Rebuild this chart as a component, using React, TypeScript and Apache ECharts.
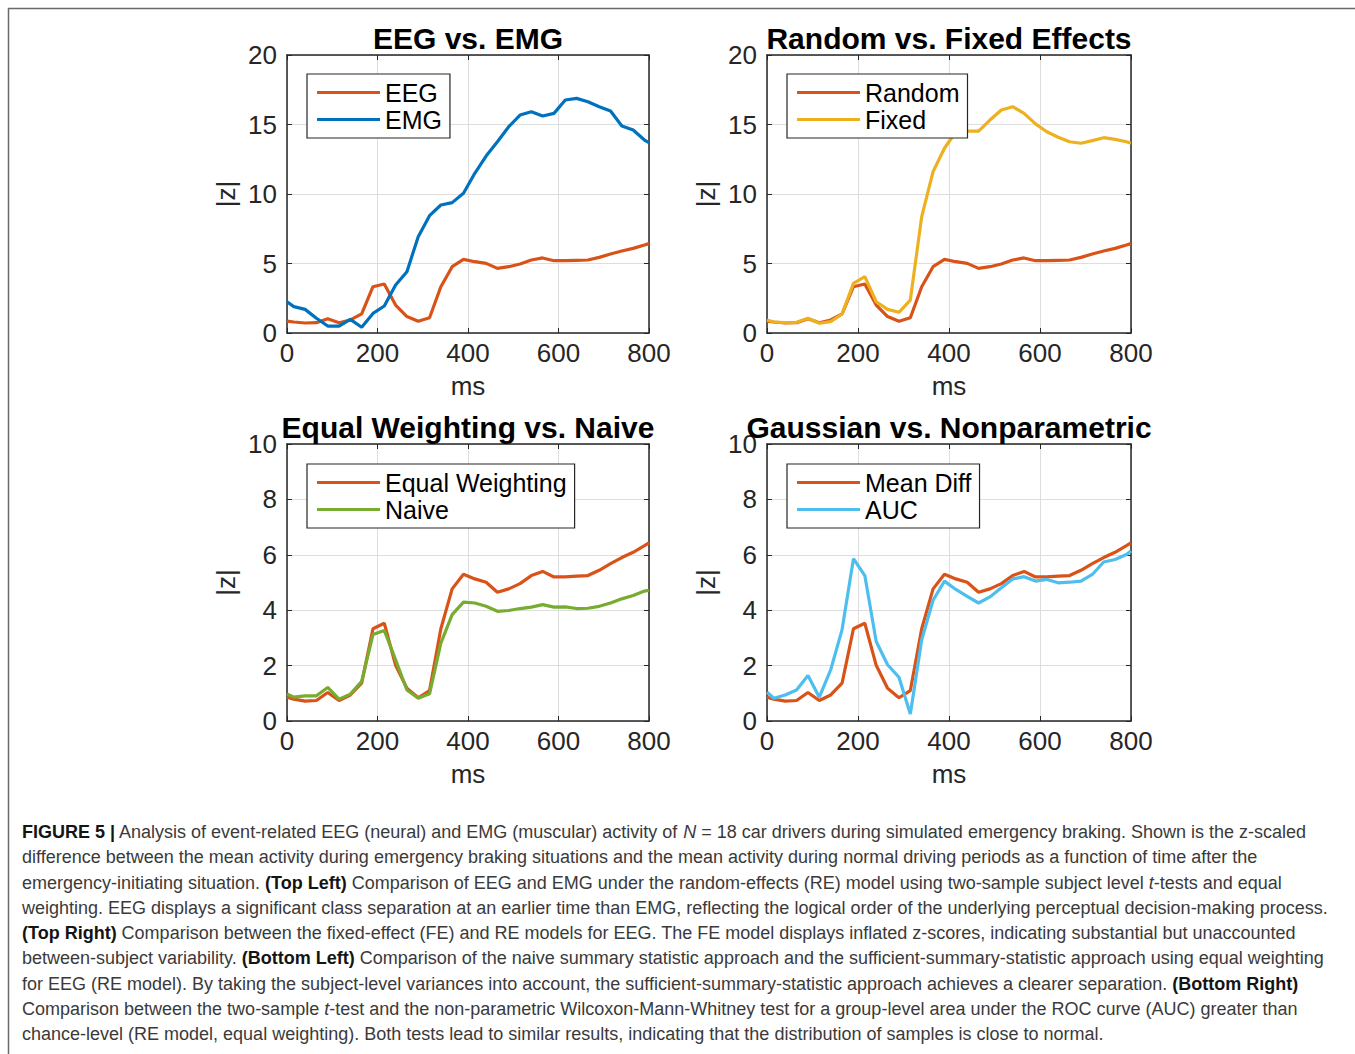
import React, { useEffect, useRef } from "react";
import * as echarts from "echarts";

// time after emergency-initiating situation (ms)
const timesMs = [0, 15, 40, 65, 90, 115, 140, 165, 190, 215, 240, 265, 290, 315, 340, 365, 390, 415, 440, 465, 490, 515, 540, 565, 590, 615, 640, 665, 690, 715, 740, 765, 790, 800];

// EEG, random effects, equal weighting, mean difference
const eegRE = [0.86, 0.79, 0.72, 0.74, 1.03, 0.74, 0.94, 1.37, 3.33, 3.53, 2.01, 1.18, 0.84, 1.10, 3.33, 4.77, 5.30, 5.13, 5.01, 4.65, 4.77, 4.96, 5.25, 5.40, 5.20, 5.20, 5.23, 5.25, 5.44, 5.68, 5.90, 6.09, 6.33, 6.43];
const emgRE = [2.25, 1.90, 1.70, 1.06, 0.50, 0.50, 0.98, 0.41, 1.41, 1.94, 3.45, 4.41, 6.93, 8.44, 9.21, 9.38, 10.05, 11.49, 12.73, 13.76, 14.84, 15.68, 15.92, 15.61, 15.80, 16.76, 16.88, 16.64, 16.28, 15.97, 14.89, 14.60, 13.88, 13.69];
const eegFixed = [0.94, 0.79, 0.74, 0.77, 1.06, 0.70, 0.82, 1.37, 3.57, 4.05, 2.25, 1.70, 1.49, 2.37, 8.37, 11.61, 13.29, 14.48, 14.53, 14.53, 15.32, 16.04, 16.28, 15.80, 15.04, 14.48, 14.08, 13.76, 13.65, 13.84, 14.05, 13.93, 13.76, 13.65];
const eegNaive = [0.98, 0.86, 0.91, 0.91, 1.21, 0.79, 0.97, 1.43, 3.12, 3.27, 2.21, 1.12, 0.82, 0.98, 2.81, 3.84, 4.29, 4.26, 4.14, 3.96, 3.99, 4.06, 4.11, 4.20, 4.11, 4.12, 4.06, 4.07, 4.14, 4.26, 4.41, 4.53, 4.69, 4.72];
const eegAUC = [1.04, 0.82, 0.94, 1.12, 1.64, 0.86, 1.85, 3.30, 5.86, 5.25, 2.87, 2.03, 1.58, 0.25, 2.93, 4.36, 5.05, 4.75, 4.50, 4.26, 4.48, 4.81, 5.13, 5.21, 5.05, 5.11, 4.99, 5.01, 5.05, 5.29, 5.74, 5.83, 6.01, 6.14];

const panelTitles = ["EEG vs. EMG", "Random vs. Fixed Effects", "Equal Weighting vs. Naive", "Gaussian vs. Nonparametric"];
const panelSeriesNames = [
  ["EEG", "EMG"],
  ["Random", "Fixed"],
  ["Equal Weighting", "Naive"],
  ["Mean Diff", "AUC"],
];
const panelSeriesData = [
  [eegRE, emgRE],
  [eegRE, eegFixed],
  [eegRE, eegNaive],
  [eegRE, eegAUC],
];
const panelYMax = [20, 20, 10, 10];
const panelYInterval = [5, 5, 2, 2];
const xMin = 0;
const xMax = 800;
const xInterval = 200;
const xAxisName = "ms";
const yAxisName = "|z|";

const captionLines = [
  "**FIGURE 5 |** Analysis of event-related EEG (neural) and EMG (muscular) activity of _N_ = 18 car drivers during simulated emergency braking. Shown is the z-scaled",
  "difference between the mean activity during emergency braking situations and the mean activity during normal driving periods as a function of time after the",
  "emergency-initiating situation. **(Top Left)** Comparison of EEG and EMG under the random-effects (RE) model using two-sample subject level _t_-tests and equal",
  "weighting. EEG displays a significant class separation at an earlier time than EMG, reflecting the logical order of the underlying perceptual decision-making process.",
  "**(Top Right)** Comparison between the fixed-effect (FE) and RE models for EEG. The FE model displays inflated z-scores, indicating substantial but unaccounted",
  "between-subject variability. **(Bottom Left)** Comparison of the naive summary statistic approach and the sufficient-summary-statistic approach using equal weighting",
  "for EEG (RE model). By taking the subject-level variances into account, the sufficient-summary-statistic approach achieves a clearer separation. **(Bottom Right)**",
  "Comparison between the two-sample _t_-test and the non-parametric Wilcoxon-Mann-Whitney test for a group-level area under the ROC curve (AUC) greater than",
  "chance-level (RE model, equal weighting). Both tests lead to similar results, indicating that the distribution of samples is close to normal.",
];

const FONT = "'Liberation Sans', Arial, Helvetica, sans-serif";
const AXIS_COLOR = "#262626";
const seriesColors = [
  ["#D95319", "#0072BD"],
  ["#D95319", "#EDB120"],
  ["#D95319", "#77AC30"],
  ["#D95319", "#4DBEEE"],
];

// layout
const grids = [
  { left: 287, top: 55, width: 362, height: 278 },
  { left: 767, top: 55, width: 364, height: 278 },
  { left: 287, top: 444, width: 362, height: 277 },
  { left: 767, top: 444, width: 364, height: 277 },
];
const legendPos = [
  { left: 307, top: 74 },
  { left: 787, top: 74 },
  { left: 307, top: 464 },
  { left: 787, top: 464 },
];

function toRich(line: string) {
  return line.replace(/\*\*(.+?)\*\*/g, "{b|$1}").replace(/_(.+?)_/g, "{i|$1}");
}

export default function App() {
  const ref = useRef<HTMLDivElement>(null);
  useEffect(() => {
    if (!ref.current) return;
    const chart = echarts.init(ref.current, undefined, { renderer: "svg" });

    const xAxes: any[] = [];
    const yAxes: any[] = [];
    const series: any[] = [];
    const legends: any[] = [];
    const graphics: any[] = [];

    grids.forEach((g, gi) => {
      const lineStyle = { color: AXIS_COLOR, width: 1.5 };
      const tick = { show: true, inside: true, length: 5, lineStyle: { color: AXIS_COLOR, width: 1 } };
      xAxes.push({
        type: "value", gridIndex: gi, position: "bottom", min: xMin, max: xMax, interval: xInterval,
        axisLine: { show: true, onZero: false, lineStyle },
        axisTick: tick,
        axisLabel: { fontSize: 26, color: AXIS_COLOR, fontFamily: FONT, margin: 7, showMinLabel: true, showMaxLabel: true },
        splitLine: { show: true, lineStyle: { color: "#dedede", width: 1 } },
        name: xAxisName, nameLocation: "middle", nameGap: 40,
        nameTextStyle: { fontSize: 26, color: AXIS_COLOR, fontFamily: FONT },
      });
      xAxes.push({
        type: "value", gridIndex: gi, position: "top", min: xMin, max: xMax, interval: xInterval,
        axisLine: { show: true, onZero: false, lineStyle },
        axisTick: tick,
        axisLabel: { show: false },
        splitLine: { show: false },
      });
      yAxes.push({
        type: "value", gridIndex: gi, position: "left", min: 0, max: panelYMax[gi], interval: panelYInterval[gi],
        axisLine: { show: true, onZero: false, lineStyle },
        axisTick: tick,
        axisLabel: { fontSize: 26, color: AXIS_COLOR, fontFamily: FONT, margin: 10, showMinLabel: true, showMaxLabel: true },
        splitLine: { show: true, lineStyle: { color: "#dedede", width: 1 } },
        name: yAxisName, nameLocation: "middle", nameGap: 48,
        nameTextStyle: { fontSize: 26, color: AXIS_COLOR, fontFamily: FONT },
      });
      yAxes.push({
        type: "value", gridIndex: gi, position: "right", min: 0, max: panelYMax[gi], interval: panelYInterval[gi],
        axisLine: { show: true, onZero: false, lineStyle },
        axisTick: tick,
        axisLabel: { show: false },
        splitLine: { show: false },
      });

      panelSeriesNames[gi].forEach((name, si) => {
        const vals = panelSeriesData[gi][si];
        series.push({
          type: "line", name, xAxisIndex: gi * 2, yAxisIndex: gi * 2,
          data: timesMs.map((t, k) => [t, vals[k]]),
          showSymbol: false, symbol: "none", clip: true,
          lineStyle: { width: 3.2, color: seriesColors[gi][si] },
          itemStyle: { color: seriesColors[gi][si] },
          z: 2 + si,
        });
      });

      legends.push({
        show: true, left: legendPos[gi].left, top: legendPos[gi].top, orient: "vertical",
        data: panelSeriesNames[gi].map((n) => ({ name: n, icon: "rect" })),
        itemWidth: 63, itemHeight: 3, itemGap: 0,
        textStyle: { fontSize: 25, color: "#000", fontFamily: FONT, lineHeight: 27 },
        backgroundColor: "#fff", borderColor: "#262626", borderWidth: 1.2, borderRadius: 0,
        padding: [5, 8, 5, 10], selectedMode: false, z: 10,
      });

      graphics.push({
        type: "text", x: g.left + g.width / 2, y: g.top - 17,
        style: {
          text: panelTitles[gi], fontSize: 30, fontWeight: "bold", fontFamily: FONT, fill: "#000",
          align: "center", verticalAlign: "middle", textAlign: "center", textVerticalAlign: "middle",
        },
        z: 20,
      });
    });

    graphics.push({
      type: "rect", shape: { x: 8.5, y: 8.5, width: 1400, height: 1100 },
      style: { fill: "none", stroke: "#6a6a6a", lineWidth: 1.5 }, silent: true,
    });

    captionLines.forEach((line, li) => {
      graphics.push({
        type: "text", x: 22, y: 832 + li * 25.25,
        style: {
          text: toRich(line), fontSize: 18, fontFamily: FONT, fill: "#3a3a3a",
          align: "left", verticalAlign: "middle", textAlign: "left", textVerticalAlign: "middle",
          rich: {
            b: { fontSize: 18, fontFamily: FONT, fontWeight: "bold", fill: "#141414" },
            i: { fontSize: 18, fontFamily: FONT, fontStyle: "italic", fill: "#3a3a3a" },
          },
        },
      });
    });

    chart.setOption({
      animation: false,
      backgroundColor: "#ffffff",
      grid: grids.map((g) => ({ ...g, containLabel: false })),
      xAxis: xAxes,
      yAxis: yAxes,
      legend: legends,
      series,
      graphic: graphics,
    });
    return () => chart.dispose();
  }, []);
  return <div ref={ref} style={{ position: "absolute", left: 0, top: 0, width: 1355, height: 1054 }} />;
}
